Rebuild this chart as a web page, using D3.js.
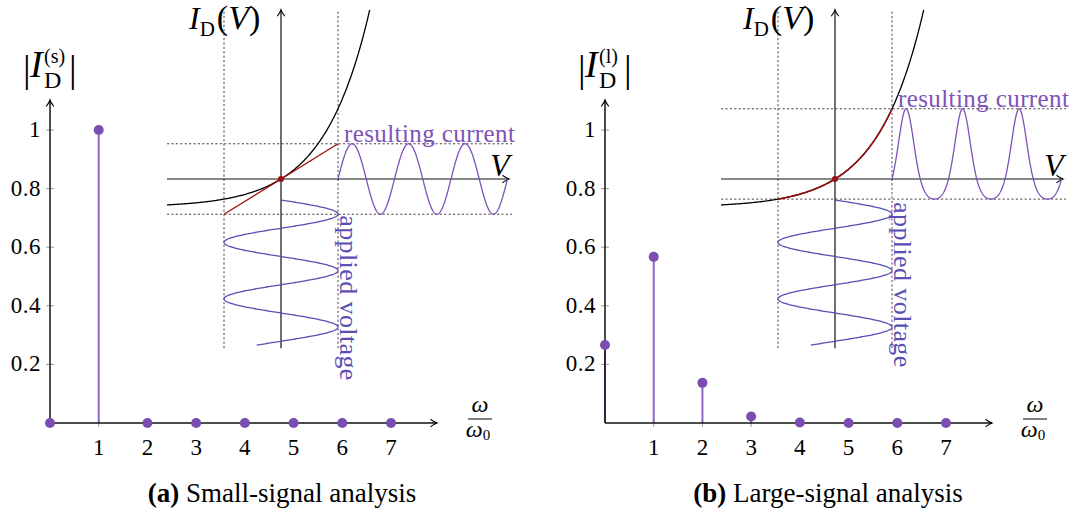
<!DOCTYPE html>
<html>
<head>
<meta charset="utf-8">
<script src="https://cdn.jsdelivr.net/npm/d3@7"></script>
<style>
  body { margin: 0; background: #fff; }
  svg { display: block; }
</style>
</head>
<body>
<svg id="chart" width="1083" height="517"></svg>
<script>
// harmonic index on the frequency axis (omega / omega_0)
const harmonics = [0, 1, 2, 3, 4, 5, 6, 7];
// |I_D| spectrum, small-signal: only the fundamental survives
const smallSignal = [0, 1, 0, 0, 0, 0, 0, 0];
// |I_D| spectrum, large-signal: DC offset + harmonics
const largeSignal = [0.266, 0.567, 0.137, 0.022, 0.002, 0, 0, 0];
const yTicks = [0.2, 0.4, 0.6, 0.8, 1];
const xTicks = [1, 2, 3, 4, 5, 6, 7];

// diode inset, normalised units (V in thermal voltages, I in I_s)
const swing = 1.25;          // amplitude of applied voltage
const vAxis = [-2.5, 5];     // extent of V axis
const iAxis = [-6, 6];       // extent of I axis
const voltPeriods = 2.57;    // periods of applied voltage drawn
const currPeriods = 3;       // periods of resulting current drawn

const FONT = '"Liberation Serif", serif';
const svg = d3.select("#chart");

const colStem = "#8c68c4", colDot = "#7a4eb0";
const colVolt = "#5a50b4", colCurr = "#7e52b8", colRed = "#990f0f";

// arrow head like tikz "->"
const defs = svg.append("defs");
defs.append("marker")
  .attr("id", "arr")
  .attr("viewBox", "-8 -5 10 10")
  .attr("markerUnits", "userSpaceOnUse")
  .attr("markerWidth", 10).attr("markerHeight", 10)
  .attr("refX", 0).attr("refY", 0)
  .attr("orient", "auto")
  .append("path")
  .attr("d", "M-6.5,-3.8 Q-2,-0.6 0,0 Q-2,0.6 -6.5,3.8")
  .attr("fill", "none").attr("stroke", "#000").attr("stroke-width", 1.1);

const diode = v => Math.exp(v) - 1;

const panels = [
  { x0: 50, ox: 281, values: smallSignal, tag: "(s)", large: false,
    cap: "(a)", capText: " Small-signal analysis", cx: 282, textY: 142 },
  { x0: 605, ox: 835, values: largeSignal, tag: "(l)", large: true,
    cap: "(b)", capText: " Large-signal analysis", cx: 828, textY: 107 }
];

panels.forEach(p => drawPanel(p));
svg.selectAll("text").style("font-family", FONT);

function drawPanel(p) {
  const g = svg.append("g");

  // ---------- inset: diode characteristic ----------
  const vx = d3.scaleLinear().domain([0, 1]).range([p.ox, p.ox + 45.6]);
  const iy = d3.scaleLinear().domain([0, 1]).range([179, 150.8]);
  const ty = d3.scaleLinear().domain([0, 1]).range([200, 256.5]);   // time, voltage wave
  const tx = d3.scaleLinear().domain([0, 1]).range([vx(swing), vx(swing) + 56.5]); // time, current wave

  const response = p.large ? diode : (v => v);
  const iHi = response(swing), iLo = response(-swing);

  const dashed = g.append("g").attr("stroke", "#333").attr("stroke-width", 0.9)
    .attr("stroke-dasharray", "2.2,2.2").attr("fill", "none");
  [-swing, swing].forEach(v => {
    dashed.append("line").attr("x1", vx(v)).attr("x2", vx(v))
      .attr("y1", iy(iAxis[0])).attr("y2", iy(iAxis[1]));
  });
  [iHi, iLo].forEach(i => {
    dashed.append("line").attr("x1", vx(vAxis[0])).attr("x2", vx(vAxis[1]) + 3)
      .attr("y1", iy(i)).attr("y2", iy(i));
  });

  // axes of the inset
  g.append("line").attr("x1", vx(vAxis[0])).attr("x2", vx(vAxis[1]))
    .attr("y1", iy(0)).attr("y2", iy(0))
    .attr("stroke", "#111").attr("stroke-width", 1.2).attr("marker-end", "url(#arr)");
  g.append("line").attr("x1", vx(0)).attr("x2", vx(0))
    .attr("y1", iy(iAxis[0])).attr("y2", iy(iAxis[1]))
    .attr("stroke", "#111").attr("stroke-width", 1.2).attr("marker-end", "url(#arr)");

  const line = d3.line().x(d => vx(d[0])).y(d => iy(d[1]));
  const vMax = Math.log(1 + iAxis[1]);
  const curvePts = d3.range(vAxis[0], vMax, 0.02).concat([vMax]).map(v => [v, diode(v)]);
  g.append("path").attr("d", line(curvePts))
    .attr("fill", "none").attr("stroke", "#000").attr("stroke-width", 1.3);

  if (p.large) {
    const seg = d3.range(-swing, swing, 0.02).concat([swing]).map(v => [v, diode(v)]);
    g.append("path").attr("d", line(seg))
      .attr("fill", "none").attr("stroke", colRed).attr("stroke-width", 1.6);
  } else {
    g.append("path").attr("d", line([[-swing, -swing], [swing, swing]]))
      .attr("fill", "none").attr("stroke", colRed).attr("stroke-width", 1.3);
  }
  g.append("circle").attr("cx", vx(0)).attr("cy", iy(0)).attr("r", 3).attr("fill", colRed);

  // applied voltage (vertical sine)
  const tv = d3.range(0, voltPeriods, 0.005).concat([voltPeriods]);
  g.append("path")
    .attr("d", d3.line().x(t => vx(swing * Math.sin(2 * Math.PI * t))).y(t => ty(t))(tv))
    .attr("fill", "none").attr("stroke", colVolt).attr("stroke-width", 1.3);

  // resulting current (horizontal wave)
  const tc = d3.range(0, currPeriods, 0.005).concat([currPeriods]);
  g.append("path")
    .attr("d", d3.line().x(t => tx(t)).y(t => iy(response(swing * Math.sin(2 * Math.PI * t))))(tc))
    .attr("fill", "none").attr("stroke", colCurr).attr("stroke-width", 1.3);

  g.append("text").attr("x", vx(swing) + 6).attr("y", p.textY)
    .attr("font-size", 25).attr("letter-spacing", 0.4).attr("fill", colCurr).text("resulting current");
  g.append("text")
    .attr("transform", `translate(${vx(swing) + 2},${iy(iLo) + (p.large ? 3 : 1)}) rotate(90)`)
    .attr("font-size", 26).attr("letter-spacing", 0.4).attr("fill", colVolt).text("applied voltage");

  // labels of the inset
  const lab = g.append("text").attr("x", p.ox - 92).attr("y", 29).attr("font-size", 32);
  lab.append("tspan").attr("font-style", "italic").text("I");
  lab.append("tspan").attr("font-size", 21).attr("dy", 7).attr("dx", 0).text("D");
  lab.append("tspan").attr("dy", -7).attr("dx", 2).attr("font-size", 34).text("(");
  lab.append("tspan").attr("font-style", "italic").attr("font-size", 34).text("V");
  lab.append("tspan").attr("font-size", 34).text(")");
  g.append("text").attr("x", vx(vAxis[1]) - 19).attr("y", 176)
    .attr("font-size", 32).attr("font-style", "italic").text("V");

  // ---------- spectrum ----------
  const x = d3.scaleLinear().domain([0, 7]).range([p.x0, p.x0 + 341]);
  const y = d3.scaleLinear().domain([0, 1]).range([423, 130]);

  // tick marks
  g.append("g").selectAll("line").data(yTicks).join("line")
    .attr("x1", p.x0 - 4).attr("x2", p.x0 + 4)
    .attr("y1", d => y(d)).attr("y2", d => y(d))
    .attr("stroke", "#999").attr("stroke-width", 1);
  g.append("g").selectAll("line").data(xTicks).join("line")
    .attr("x1", d => x(d)).attr("x2", d => x(d))
    .attr("y1", y(0) - 4).attr("y2", y(0) + 4)
    .attr("stroke", "#999").attr("stroke-width", 1);

  // stems
  g.append("g").selectAll("line").data(harmonics).join("line")
    .attr("x1", d => x(d)).attr("x2", d => x(d))
    .attr("y1", y(0)).attr("y2", d => y(p.values[d]))
    .attr("stroke", colStem).attr("stroke-width", 2);

  // axes
  g.append("line").attr("x1", x(0)).attr("x2", x(0) + 387)
    .attr("y1", y(0)).attr("y2", y(0))
    .attr("stroke", "#111").attr("stroke-width", 1.5).attr("marker-end", "url(#arr)");
  g.append("line").attr("x1", x(0)).attr("x2", x(0))
    .attr("y1", y(0)).attr("y2", 100)
    .attr("stroke", "#111").attr("stroke-width", 1.5).attr("marker-end", "url(#arr)");

  g.append("g").selectAll("circle").data(harmonics).join("circle")
    .attr("cx", d => x(d)).attr("cy", d => y(p.values[d])).attr("r", 5)
    .attr("fill", colDot);

  // tick labels
  g.append("g").selectAll("text").data(yTicks).join("text")
    .attr("x", p.x0 - 9).attr("y", d => y(d) + 7)
    .attr("text-anchor", "end").attr("font-size", 23).attr("letter-spacing", 0.5)
    .text(d => String(d));
  g.append("g").selectAll("text").data(xTicks).join("text")
    .attr("x", d => x(d)).attr("y", 455)
    .attr("text-anchor", "middle").attr("font-size", 23)
    .text(d => d);

  // omega / omega_0
  const fx = p.x0 + 430;
  g.append("text").attr("x", fx).attr("y", 412).attr("text-anchor", "middle")
    .attr("font-size", 24).attr("font-style", "italic").text("ω");
  g.append("line").attr("x1", fx - 12).attr("x2", fx + 12).attr("y1", 419).attr("y2", 419)
    .attr("stroke", "#000").attr("stroke-width", 1);
  const om = g.append("text").attr("x", fx - 2).attr("y", 437).attr("text-anchor", "middle")
    .attr("font-size", 24);
  om.append("tspan").attr("font-style", "italic").text("ω");
  om.append("tspan").attr("font-size", 15).attr("dy", 3).text("0");

  // |I_D^(.)| label
  const yl = p.x0 - 27;
  g.append("text").attr("x", yl).attr("y", 82).attr("font-size", 38).text("|");
  g.append("text").attr("x", yl + 7).attr("y", 77).attr("font-size", 38)
    .attr("font-style", "italic").text("I");
  g.append("text").attr("x", yl + 21).attr("y", 63).attr("font-size", 20).text(p.tag);
  g.append("text").attr("x", yl + 21).attr("y", 88).attr("font-size", 24).text("D");
  g.append("text").attr("x", yl + 46).attr("y", 82).attr("font-size", 38).text("|");

  // caption
  const c = g.append("text").attr("x", p.cx).attr("y", 502)
    .attr("text-anchor", "middle").attr("font-size", 27);
  c.append("tspan").attr("font-weight", "bold").text(p.cap);
  c.append("tspan").text(p.capText);
}
</script>
</body>
</html>
